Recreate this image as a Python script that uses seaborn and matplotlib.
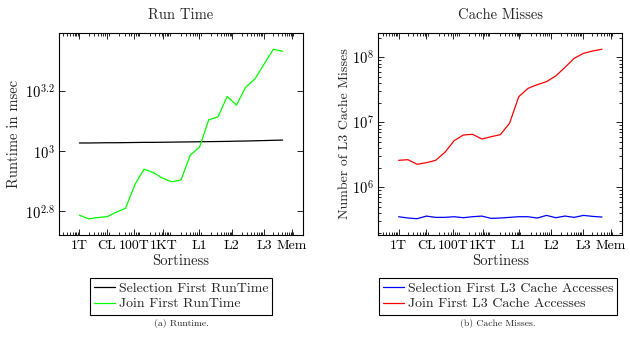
import numpy as np
import pandas as pd
import matplotlib
matplotlib.use("Agg")
import matplotlib.pyplot as plt
import seaborn as sns
from matplotlib.ticker import FixedLocator, FixedFormatter, LogLocator, NullFormatter, NullLocator

# Sortiness levels (number of tuples per sorted run)
sortiness = [1, 2, 4, 8, 16, 32, 64, 128, 256, 512, 1024, 2048, 4096, 8192,
             16384, 32768, 65536, 131072, 262144, 524288, 1048576, 2097152, 4194304]

# Runtime in msec
selection_runtime = [1062, 1062, 1063, 1064, 1064, 1065, 1066, 1067, 1067, 1068, 1069, 1070,
                     1071, 1072, 1073, 1074, 1075, 1077, 1078, 1080, 1082, 1084, 1086]
join_runtime = [611, 594, 600, 604, 625, 644, 771, 869, 847, 811, 789, 800,
                968, 1028, 1268, 1297, 1517, 1419, 1629, 1734, 1945, 2178, 2143]

# L3 cache misses
selection_l3 = [3.53e5, 3.37e5, 3.29e5, 3.61e5, 3.45e5, 3.45e5, 3.53e5, 3.41e5, 3.53e5, 3.61e5,
                3.33e5, 3.37e5, 3.45e5, 3.53e5, 3.53e5, 3.37e5, 3.70e5, 3.41e5, 3.61e5, 3.45e5,
                3.70e5, 3.57e5, 3.49e5]
join_l3 = [2.60e6, 2.66e6, 2.26e6, 2.39e6, 2.60e6, 3.45e6, 5.2e6, 6.38e6, 6.53e6, 5.53e6,
           6.0e6, 6.45e6, 9.66e6, 2.48e7, 3.33e7, 3.79e7, 4.22e7, 5.16e7, 7.0e7, 9.66e7,
           1.15e8, 1.25e8, 1.33e8]

# Named sortiness marks on the x axis
tick_values = [1, 8, 60, 540, 8192, 92000, 1048576, 8388608]
tick_labels = ["1T", "CL", "100T", "1KT", "L1", "L2", "L3", "Mem"]

sns.set_style("ticks")
plt.rcParams["font.family"] = ["cmr10", "DejaVu Serif"]
plt.rcParams["mathtext.fontset"] = "cm"
plt.rcParams["axes.formatter.use_mathtext"] = True
plt.rcParams["axes.unicode_minus"] = False

runtime_df = pd.DataFrame({
    "Sortiness": sortiness * 2,
    "value": selection_runtime + join_runtime,
    "series": ["Selection First RunTime"] * len(sortiness) + ["Join First RunTime"] * len(sortiness),
})
cache_df = pd.DataFrame({
    "Sortiness": sortiness * 2,
    "value": selection_l3 + join_l3,
    "series": ["Selection First L3 Cache Accesses"] * len(sortiness)
              + ["Join First L3 Cache Accesses"] * len(sortiness),
})

W, H = 630, 337
fig = plt.figure(figsize=(W / 100, H / 100), dpi=100)
ax_bottom = 1 - 235.3 / H
ax_h = 202.6 / H
ax1 = fig.add_axes([59 / W, ax_bottom, 244 / W, ax_h])
ax2 = fig.add_axes([378.3 / W, ax_bottom, 244 / W, ax_h])

sns.lineplot(data=runtime_df, x="Sortiness", y="value", hue="series",
             palette={"Selection First RunTime": "black", "Join First RunTime": "#00ff00"},
             linewidth=0.9, ax=ax1, legend=False)
sns.lineplot(data=cache_df, x="Sortiness", y="value", hue="series",
             palette={"Selection First L3 Cache Accesses": "#0000ff",
                      "Join First L3 Cache Accesses": "#ff0000"},
             linewidth=0.9, ax=ax2, legend=False)

lo, hi = np.log10(sortiness[0]), np.log10(sortiness[-1])
margin = 0.1 * (hi - lo)
for ax in (ax1, ax2):
    ax.set_xscale("log")
    ax.set_yscale("log")
    ax.set_xlim(10 ** (lo - margin), 10 ** (hi + margin))
    ax.xaxis.set_major_locator(FixedLocator(tick_values))
    ax.xaxis.set_major_formatter(FixedFormatter(tick_labels))
    ax.xaxis.set_minor_locator(LogLocator(base=10, subs=np.arange(2, 10), numticks=30))
    ax.xaxis.set_minor_formatter(NullFormatter())
    ax.tick_params(which="both", direction="in", top=True, right=True,
                   colors="black", labelsize=10.5, width=0.6)
    ax.tick_params(axis="x", labelsize=10)
    ax.tick_params(which="major", length=4, pad=3)
    ax.tick_params(which="minor", length=2.3)
    for s in ax.spines.values():
        s.set_visible(True)
        s.set_color("black")
        s.set_linewidth(0.8)
    ax.set_xlabel("Sortiness", fontsize=10.5, labelpad=2)

ax1.set_ylim(10 ** 2.719, 10 ** 3.393)
ax1.yaxis.set_major_locator(FixedLocator([10 ** 2.8, 10 ** 3, 10 ** 3.2]))
ax1.yaxis.set_major_formatter(FixedFormatter([r"$10^{2.8}$", r"$10^{3}$", r"$10^{3.2}$"]))
ax1.yaxis.set_minor_locator(NullLocator())
ax1.set_ylabel("Runtime in msec", fontsize=10.5, labelpad=3)
ax1.set_title("Run Time", fontsize=10.5, pad=10)

ax2.set_ylim(10 ** 5.262, 10 ** 8.378)
ax2.yaxis.set_major_locator(LogLocator(base=10, numticks=10))
ax2.yaxis.set_minor_locator(LogLocator(base=10, subs=np.arange(2, 10), numticks=30))
ax2.yaxis.set_minor_formatter(NullFormatter())
ax2.set_ylabel("Number of L3 Cache Misses", fontsize=10, labelpad=1)
ax2.set_title("Cache Misses", fontsize=10.5, pad=10)

legend_top = 1 - 278 / H
for ax, cx in ((ax1, 181 / W), (ax2, 498 / W)):
    handles = ax.get_lines()[:2]
    labels = ["Selection First RunTime", "Join First RunTime"] if ax is ax1 else \
             ["Selection First L3 Cache Accesses", "Join First L3 Cache Accesses"]
    leg = ax.legend(handles, labels, loc="upper center", bbox_to_anchor=(cx, legend_top),
                    bbox_transform=fig.transFigure, fontsize=10, frameon=True, fancybox=False,
                    framealpha=1, edgecolor="black", handlelength=1.5, handletextpad=0.3,
                    labelspacing=0.2, borderpad=0.3, borderaxespad=0)
    leg.get_frame().set_linewidth(0.8)

fig.text(181 / W, 1 - 324 / H, "(a) Runtime.", ha="center", va="center", fontsize=7)
fig.text(498 / W, 1 - 324 / H, "(b) Cache Misses.", ha="center", va="center", fontsize=7)

fig.savefig("out.png", dpi=100)
